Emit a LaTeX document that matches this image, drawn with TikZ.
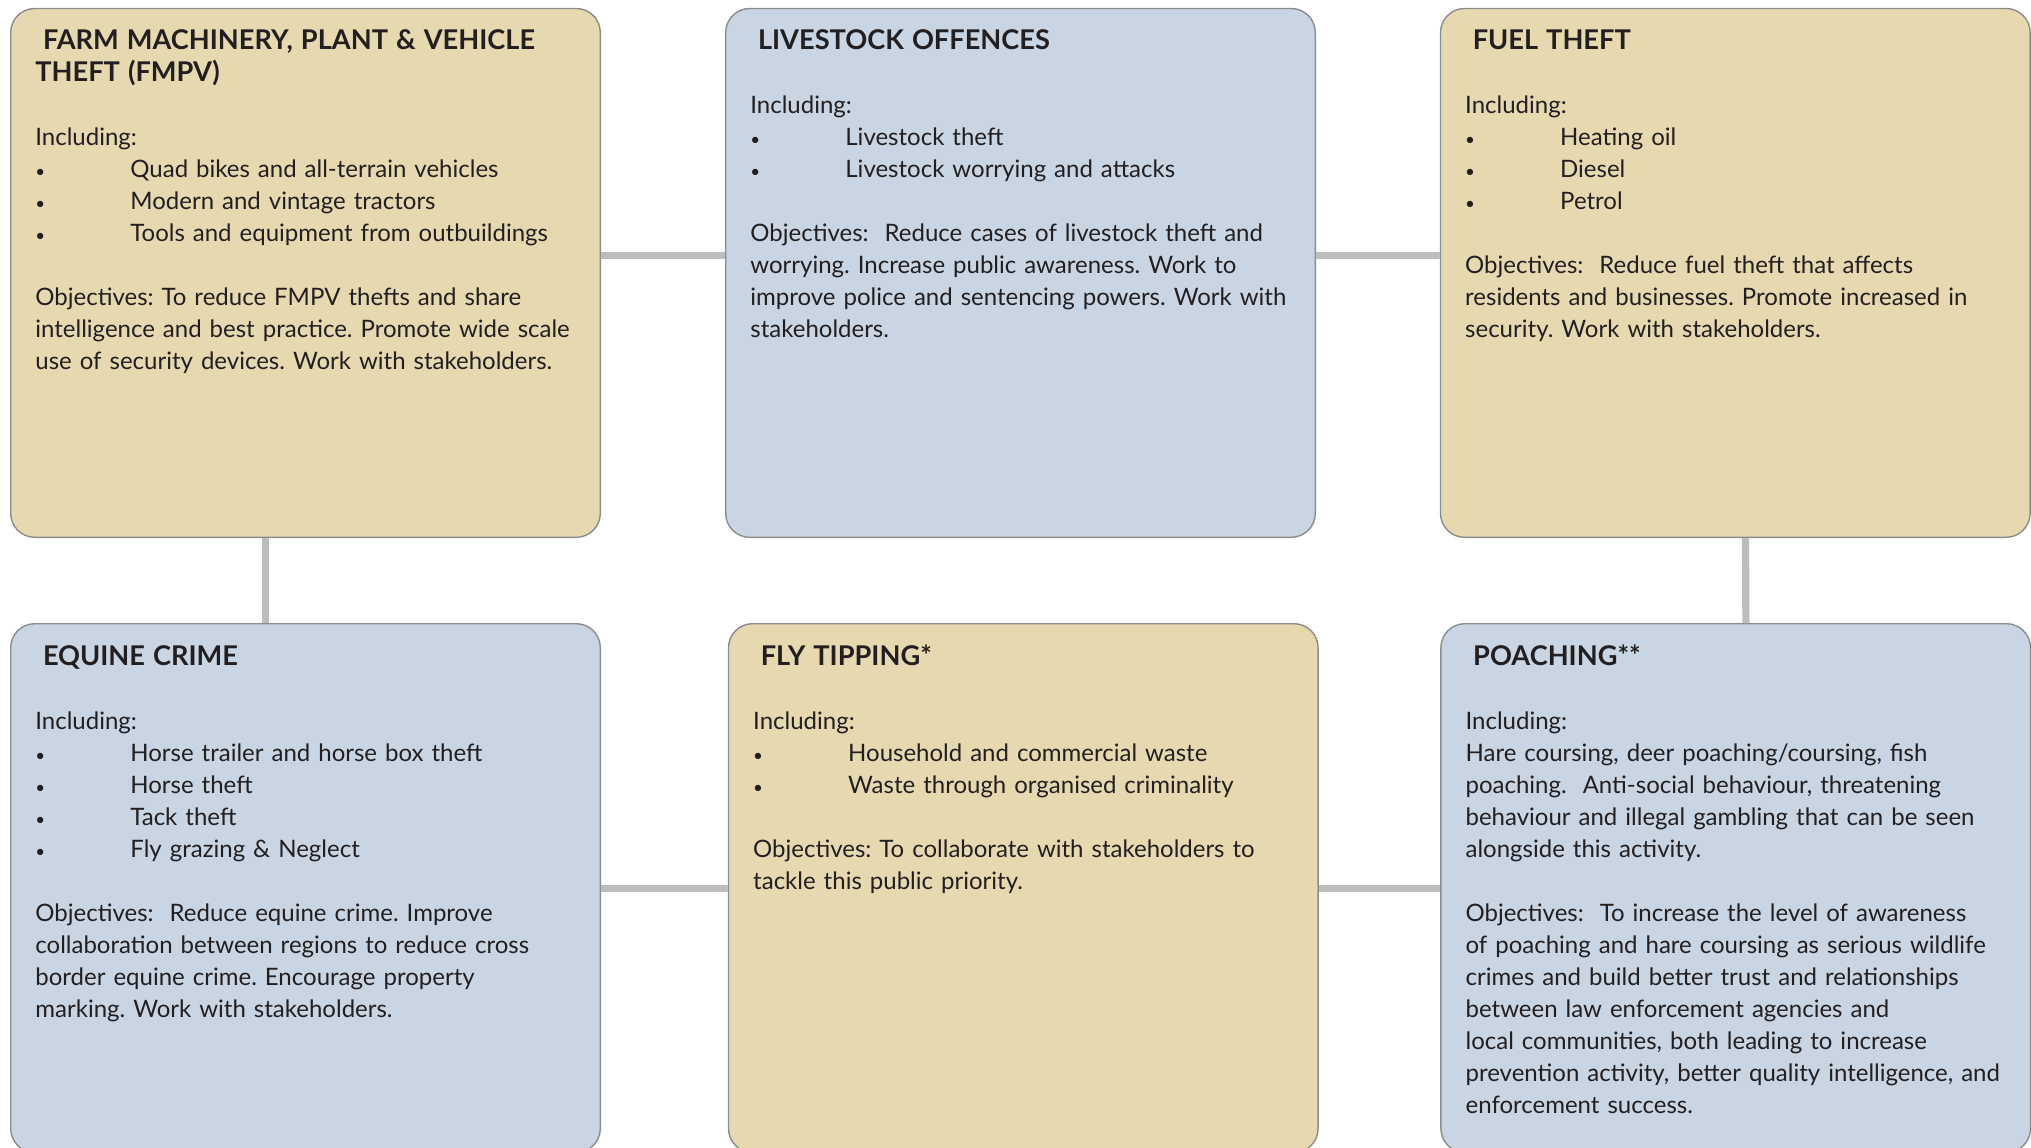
\documentclass[tikz,border=0pt]{standalone}
\usepackage{fontspec}
\setmainfont{Lato}
\usepackage{tikz}
\usetikzlibrary{positioning}

\definecolor{boxtan}{RGB}{230,217,176}
\definecolor{boxblue}{RGB}{201,213,227}
\definecolor{boxedge}{RGB}{140,140,140}
\definecolor{linkgray}{RGB}{188,189,193}
\definecolor{ink}{RGB}{35,31,32}

\newcommand{\itm}[1]{\makebox[47.5pt][l]{\fontsize{8.5}{16}\selectfont\textbullet}#1}
\newcommand{\ttl}[1]{{\fontsize{13.6}{16}\selectfont\bfseries #1}}

\begin{document}
\frenchspacing
\begin{tikzpicture}[box/.style={rectangle, draw=boxedge, line width=0.7pt, rounded corners=12pt, minimum width=294.8pt, minimum height=264.4pt, inner sep=0pt},
    tanbox/.style={box, fill=boxtan}, bluebox/.style={box, fill=boxblue},
    body/.style={anchor=base west, inner sep=0pt, text width=275pt, align=left, text=ink, font=\fontsize{12}{16}\selectfont},
    link/.style={draw=linkgray, line width=3.6pt}]
            \useasboundingbox (0,0) rectangle (1015.5pt,-573.5pt);
            \node[tanbox,anchor=north west] (fmpv) at (5pt,-3.9pt) {};
            \node[bluebox,right=62pt of fmpv] (livestock) {};
            \node[tanbox,right=61.9pt of livestock] (fuel) {};
            \node[bluebox,below=42.5pt of fmpv] (equine) {};
            \node[tanbox,right=63.4pt of equine] (flytip) {};
            \node[bluebox,right=60.7pt of flytip] (poaching) {};
            \draw[link] ([yshift=8.7pt]fmpv.east) -- ([yshift=8.7pt]livestock.west);
            \draw[link] ([yshift=8.7pt]livestock.east) -- ([yshift=8.7pt]fuel.west);
            \draw[link] ([xshift=-20pt]fmpv.south) -- ([xshift=-20pt]equine.north);
            \draw[link] ([xshift=5.1pt]fuel.south) -- ([xshift=5.1pt]poaching.north);
            \draw[link] (equine.east) -- (flytip.west);
            \draw[link] (flytip.east) -- (poaching.west);
            \node[body] (fmpvtext) at ([xshift=12.5pt,yshift=-21pt]fmpv.north west) {\ttl{\hspace*{3.8pt}FARM MACHINERY, PLANT \& VEHICLE\\THEFT (FMPV)}\\[16pt]
              Including:\\ \itm{Quad bikes and all-terrain vehicles}\\ \itm{Modern and vintage tractors}\\ \itm{Tools and equipment from outbuildings}\\[16pt]
              Objectives: To reduce FMPV thefts and share\\ intelligence and best practice. Promote wide scale\\ use of security devices. Work with stakeholders.};
            \node[body] (livestocktext) at ([xshift=12.5pt,yshift=-21pt]livestock.north west) {\ttl{\hspace*{3.8pt}LIVESTOCK OFFENCES}\\[16pt]
              Including:\\ \itm{Livestock theft}\\ \itm{Livestock worrying and attacks}\\[16pt]
              Objectives:\ \ Reduce cases of livestock theft and\\ worrying. Increase public awareness. Work to\\ improve police and sentencing powers. Work with\\ stakeholders.};
            \node[body] (fueltext) at ([xshift=12.5pt,yshift=-21pt]fuel.north west) {\ttl{\hspace*{3.8pt}FUEL THEFT}\\[16pt]
              Including:\\ \itm{Heating oil}\\ \itm{Diesel}\\ \itm{Petrol}\\[16pt]
              Objectives:\ \ Reduce fuel theft that affects\\ residents and businesses. Promote increased in\\ security. Work with stakeholders.};
            \node[body] (equinetext) at ([xshift=12.5pt,yshift=-21pt]equine.north west) {\ttl{\hspace*{3.8pt}EQUINE CRIME}\\[16pt]
              Including:\\ \itm{Horse trailer and horse box theft}\\ \itm{Horse theft}\\ \itm{Tack theft}\\ \itm{Fly grazing \& Neglect}\\[16pt]
              Objectives:\ \ Reduce equine crime. Improve\\ collaboration between regions to reduce cross\\ border equine crime. Encourage property\\ marking. Work with stakeholders.};
            \node[body] (fliptext) at ([xshift=12.5pt,yshift=-21pt]flytip.north west) {\ttl{\hspace*{3.8pt}FLY TIPPING*}\\[16pt]
              Including:\\ \itm{Household and commercial waste}\\ \itm{Waste through organised criminality}\\[16pt]
              Objectives: To collaborate with stakeholders to\\ tackle this public priority.};
            \node[body] (poachingtext) at ([xshift=12.5pt,yshift=-21pt]poaching.north west) {\ttl{\hspace*{3.8pt}POACHING**}\\[16pt]
              Including:\\ Hare coursing, deer poaching/coursing, fish\\ poaching.\ \ Anti-social behaviour, threatening\\ behaviour and illegal gambling that can be seen\\ alongside this activity.\\[16pt]
              Objectives:\ \ To increase the level of awareness\\ of poaching and hare coursing as serious wildlife\\ crimes and build better trust and relationships\\ between law enforcement agencies and\\ local communities, both leading to increase\\ prevention activity, better quality intelligence, and\\ enforcement success.};
        \end{tikzpicture}
\end{document}
